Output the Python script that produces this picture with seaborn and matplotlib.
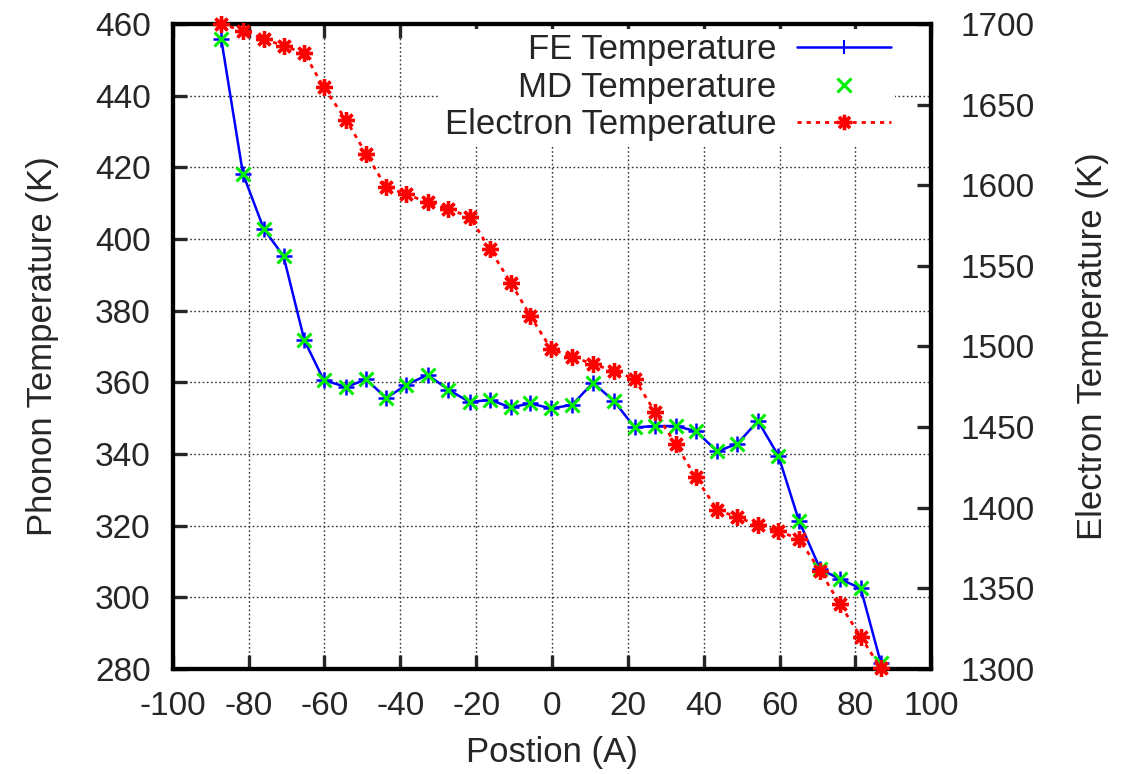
import matplotlib
matplotlib.use("Agg")
import matplotlib.pyplot as plt
from matplotlib.lines import Line2D
import seaborn as sns
import pandas as pd

# Position along the sample (Angstrom)
position = [-87.2, -81.5, -76.0, -70.8, -65.3, -60.2, -54.3, -49.0, -43.7, -38.4,
            -32.8, -27.3, -21.7, -16.4, -10.9, -5.7, -0.2, 5.3, 10.8, 16.3,
            21.8, 27.1, 32.6, 37.9, 43.6, 48.9, 54.3, 59.7, 65.1, 70.7,
            75.9, 81.4, 86.7]

# Phonon temperature from the finite-element solution (K)
fe_temp = [455.7, 418.2, 402.8, 395.2, 371.7, 360.6, 358.7, 360.8, 355.6, 359.3,
           362.1, 357.9, 354.5, 355.1, 353.0, 354.1, 352.7, 353.7, 359.9, 354.8,
           347.4, 347.8, 347.8, 346.4, 340.7, 342.9, 349.2, 339.5, 321.4, 307.9,
           305.1, 302.5, 281.7]

# Phonon temperature from molecular dynamics (K)
md_temp = [455.7, 418.2, 402.8, 395.2, 371.7, 360.6, 358.7, 360.8, 355.6, 359.3,
           362.1, 357.9, 354.5, 355.1, 353.0, 354.1, 352.7, 353.7, 359.9, 354.8,
           347.4, 347.8, 347.8, 346.4, 340.7, 342.9, 349.2, 339.5, 321.4, 307.9,
           305.1, 302.5, 281.7]

# Electron temperature (K)
electron_temp = [1700.0, 1695.8, 1690.7, 1686.5, 1681.8, 1660.7, 1640.5, 1619.4, 1598.7, 1594.4,
                 1589.4, 1585.1, 1580.5, 1560.3, 1539.6, 1518.9, 1498.3, 1493.7, 1489.1, 1484.8,
                 1479.8, 1459.6, 1439.5, 1418.9, 1398.6, 1394.1, 1389.3, 1385.6, 1380.6, 1360.8,
                 1340.3, 1320.0, 1300.4]

x_ticks = [-100, -80, -60, -40, -20, 0, 20, 40, 60, 80, 100]
y_ticks = [280, 300, 320, 340, 360, 380, 400, 420, 440, 460]
y2_ticks = [1300, 1350, 1400, 1450, 1500, 1550, 1600, 1650, 1700]

df = pd.DataFrame({"pos": position, "fe": fe_temp, "md": md_temp, "el": electron_temp})

sns.set_style("ticks")
plt.rcParams["font.family"] = ["Liberation Sans", "DejaVu Sans"]
plt.rcParams["font.size"] = 24
plt.rcParams["axes.unicode_minus"] = False

fig = plt.figure(figsize=(11.22, 7.74), dpi=100)
ax = fig.add_axes([0.154, 0.1357, 0.676, 0.8333])
ax2 = ax.twinx()

asterisk = (8, 2, 0)
dotted = (0, (1.5, 1.8))

sns.lineplot(data=df, x="pos", y="fe", ax=ax, color="#0000ff", linewidth=1.8,
             marker="+", markersize=11, markeredgewidth=1.8, markeredgecolor="#0000ff",
             clip_on=False, zorder=3)
sns.scatterplot(data=df, x="pos", y="md", ax=ax, marker="x", s=100, color="#00ee00",
                linewidth=2.2, clip_on=False, zorder=4)
sns.lineplot(data=df, x="pos", y="el", ax=ax2, color="#ff0000", linewidth=2.0,
             linestyle=dotted, marker=asterisk, markersize=12,
             markeredgewidth=2.4, markeredgecolor="#ff0000", clip_on=False, zorder=3)

ax.set_xlim(-100, 100)
ax.set_ylim(280, 460)
ax2.set_ylim(1300, 1700)
ax.set_xticks(x_ticks)
ax.set_yticks(y_ticks)
ax2.set_yticks(y2_ticks)

ax.grid(True, color="#333333", linestyle=(0, (1.2, 1.8)), linewidth=1.0)
ax2.grid(False)

for a in (ax, ax2):
    for s in a.spines.values():
        s.set_linewidth(3.0)
        s.set_color("black")
        s.set_visible(True)

ax.tick_params(axis="x", direction="in", length=10, width=2.4, labelsize=24,
               top=True, bottom=True, pad=16)
ax.tick_params(axis="y", direction="in", length=10, width=2.4, labelsize=24,
               left=True, right=False, pad=16)
ax2.tick_params(axis="y", direction="in", length=10, width=2.4, labelsize=24,
                right=True, left=False, pad=21)

ax.set_xlabel("Postion (A)", fontsize=25, labelpad=10)
ax.set_ylabel("Phonon Temperature (K)", fontsize=25, labelpad=26)
ax2.set_ylabel("Electron Temperature (K)", fontsize=25, labelpad=30)

handles = [
    Line2D([], [], color="#0000ff", linewidth=1.8, marker="|", markersize=10,
           markeredgewidth=1.5),
    Line2D([], [], color="#00ee00", linestyle="none", marker="x", markersize=10,
           markeredgewidth=2.2),
    Line2D([], [], color="#ff0000", linewidth=2.0, linestyle=dotted,
           marker=asterisk, markersize=11, markeredgewidth=2.4),
]
labels = ["FE Temperature", "MD Temperature", "Electron Temperature"]
leg = ax2.legend(handles, labels, loc="upper right", bbox_to_anchor=(0.975, 1.019),
                 markerfirst=False, numpoints=1, handlelength=2.7, handletextpad=0.6,
                 labelspacing=0.13, borderpad=0.12, frameon=True, fontsize=25)
leg.get_frame().set_facecolor("white")
leg.get_frame().set_edgecolor("none")
leg.get_frame().set_alpha(1.0)
# keep the frame spines drawn over the legend background
leg.set_zorder(2)

fig.savefig("out.png", dpi=100)
